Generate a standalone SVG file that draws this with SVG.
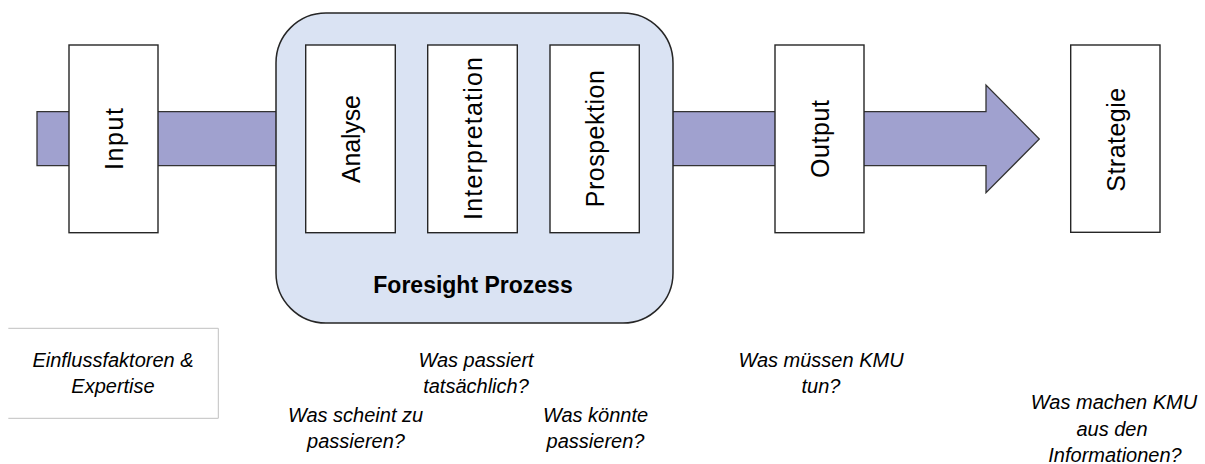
<svg xmlns="http://www.w3.org/2000/svg" width="1205" height="464" viewBox="0 0 1205 464">
  <style>
    .box { fill: #ffffff; stroke: #262626; stroke-width: 1.4; }
    .frame { fill: #dae3f3; stroke: #262626; stroke-width: 1.5; }
    .flow { fill: #a0a1cf; stroke: #333333; stroke-width: 1.3; stroke-linejoin: miter; }
    .label { font-family: "Liberation Sans", Arial, sans-serif; font-size: 25px; fill: #000; text-anchor: middle; }
    .title { font-family: "Liberation Sans", Arial, sans-serif; font-size: 23px; font-weight: bold; fill: #000; text-anchor: middle; }
    .note { font-family: "Liberation Sans", Arial, sans-serif; font-size: 20px; font-style: italic; fill: #000; text-anchor: middle; }
    .notebox { fill: none; stroke: #c0c0c0; stroke-width: 1; }
  </style>

  <!-- wide flow arrow running behind all stages -->
  <g id="connectors">
    <polygon class="flow" points="37,111.7 986,111.7 986,85 1039.3,139 986,192.7 986,165.7 37,165.7"/>
  </g>

  <g id="input">
    <rect class="box" x="69" y="45" width="89" height="187.7"/>
    <text class="label" transform="translate(122.5,139) rotate(-90)" textLength="62">Input</text>
  </g>

  <g id="foresight-prozess">
    <rect class="frame" x="276" y="13" width="397" height="310" rx="50" ry="50"/>
    <text class="title" x="473" y="293">Foresight Prozess</text>
  </g>

  <g id="analyse">
    <rect class="box" x="305.7" y="45" width="89.6" height="187.7"/>
    <text class="label" transform="translate(359.5,139) rotate(-90)" textLength="88">Analyse</text>
  </g>

  <g id="interpretation">
    <rect class="box" x="427.7" y="45" width="89.6" height="187.7"/>
    <text class="label" transform="translate(482,138.5) rotate(-90)" textLength="163">Interpretation</text>
  </g>

  <g id="prospektion">
    <rect class="box" x="550" y="45" width="89.3" height="187.7"/>
    <text class="label" transform="translate(603.5,138.7) rotate(-90)" textLength="137">Prospektion</text>
  </g>

  <g id="output">
    <rect class="box" x="775" y="45" width="89" height="187.7"/>
    <text class="label" transform="translate(828.5,139) rotate(-90)" textLength="78">Output</text>
  </g>

  <g id="strategie">
    <rect class="box" x="1070.7" y="45" width="89.3" height="187.3"/>
    <text class="label" transform="translate(1124.5,139.8) rotate(-90)" textLength="104">Strategie</text>
  </g>

  <!-- guiding questions below the stages -->
  <g id="einflussfaktoren">
    <polyline class="notebox" points="8.3,328.3 218.3,328.3 218.3,418.3 8.3,418.3"/>
    <text class="note" x="113" y="366.5">Einflussfaktoren &amp;</text>
    <text class="note" x="113" y="393">Expertise</text>
  </g>

  <g id="frage-analyse">
    <text class="note" x="355.5" y="422">Was scheint zu</text>
    <text class="note" x="356" y="448">passieren?</text>
  </g>

  <g id="frage-interpretation">
    <text class="note" x="476" y="366.5">Was passiert</text>
    <text class="note" x="476" y="393">tatsächlich?</text>
  </g>

  <g id="frage-prospektion">
    <text class="note" x="595.5" y="422">Was könnte</text>
    <text class="note" x="595.5" y="448">passieren?</text>
  </g>

  <g id="frage-output">
    <text class="note" x="821" y="367">Was müssen KMU</text>
    <text class="note" x="821" y="393">tun?</text>
  </g>

  <g id="frage-strategie">
    <text class="note" x="1114" y="408.5">Was machen KMU</text>
    <text class="note" x="1112" y="435.5">aus den</text>
    <text class="note" x="1115" y="462">Informationen?</text>
  </g>
</svg>
